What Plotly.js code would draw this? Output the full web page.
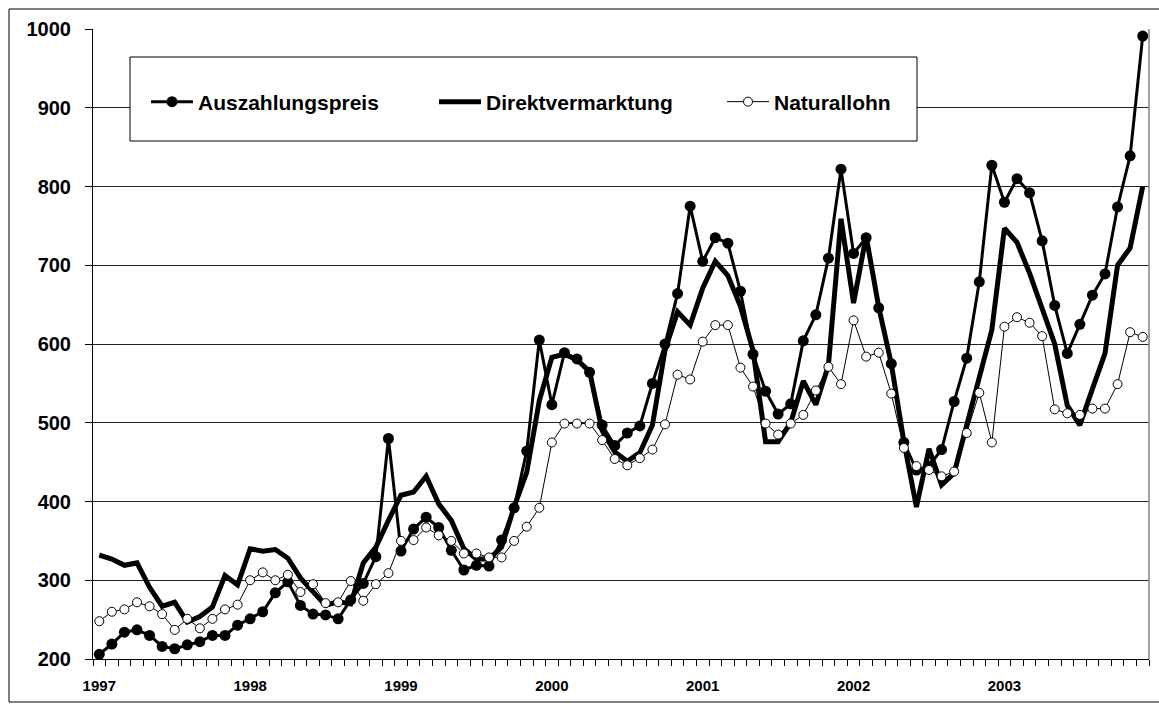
<!DOCTYPE html>
<html><head><meta charset="utf-8">
<script src="https://cdn.plot.ly/plotly-3.0.1.min.js"></script>
<style>html,body{margin:0;padding:0;background:#fff}#chart{width:1159px;height:718px}</style>
</head><body><div id="chart"></div>
<script>
// Monthly values Jan 1997 .. Dec 2003
const years = ['1997','1998','1999','2000','2001','2002','2003'];
const auszahlungspreis = [
  206,219,234,237,230,216,213,218,222,230,230,243,
  251,260,284,298,268,257,256,251,275,296,330,480,
  337,365,380,367,338,313,319,318,351,392,464,605,
  523,589,581,564,497,471,487,496,550,600,664,775,
  705,735,728,667,587,540,511,524,604,637,709,822,
  715,735,646,575,475,440,445,466,527,582,679,827,
  780,810,792,731,649,588,625,662,689,774,839,991
];
const direktvermarktung = [
  332,327,319,322,291,267,272,247,254,266,306,294,
  340,337,339,328,303,285,268,273,270,322,342,376,
  408,412,432,397,376,340,327,327,342,393,437,528,
  583,587,580,565,490,463,451,462,497,592,641,624,
  671,705,687,648,592,476,476,500,553,523,573,759,
  652,737,647,575,476,393,467,421,436,497,558,618,
  747,729,690,645,600,522,497,543,588,700,722,800
];
const naturallohn = [
  248,260,263,272,267,257,237,251,239,251,263,269,
  300,310,300,307,285,295,271,272,299,274,295,309,
  350,351,367,357,350,334,334,329,329,350,368,392,
  475,499,499,499,478,454,446,455,466,498,561,555,
  603,624,624,570,546,499,485,499,510,541,571,549,
  630,584,589,537,468,445,440,432,438,487,538,475,
  622,634,627,610,517,512,510,518,518,549,615,609
];
const seriesNames = ['Auszahlungspreis','Direktvermarktung','Naturallohn'];

const monthIndex = auszahlungspreis.map((_, i) => i);
const yearTickPos = years.map((_, k) => k * 12);

const FONT = 'Liberation Sans, Arial, Helvetica, sans-serif';

const traces = [
  {x: monthIndex, y: auszahlungspreis, name: seriesNames[0], type: 'scatter', mode: 'lines+markers',
   line: {color: '#000', width: 3}, marker: {symbol: 'circle', size: 11, color: '#000'}},
  {x: monthIndex, y: direktvermarktung, name: seriesNames[1], type: 'scatter', mode: 'lines',
   line: {color: '#000', width: 5}},
  {x: monthIndex, y: naturallohn, name: seriesNames[2], type: 'scatter', mode: 'lines+markers',
   line: {color: '#000', width: 1}, marker: {symbol: 'circle', size: 9, color: '#fff', line: {color: '#000', width: 1}}}
];

const W = 1159, H = 718, L = 93, R = 10, T = 29, B = 59;
const pw = W - L - R, ph = H - T - B;
const px = v => (v - L) / pw;
const py = v => (H - B - v) / ph;

const layout = {
  width: W, height: H,
  margin: {l: L, r: R, t: T, b: B, pad: 0},
  paper_bgcolor: '#fff', plot_bgcolor: '#fff',
  font: {family: FONT, color: '#000'},
  showlegend: true,
  legend: {
    orientation: 'h', x: px(146), xanchor: 'left', y: py(102), yanchor: 'middle',
    bgcolor: 'rgba(0,0,0,0)', borderwidth: 0,
    font: {family: FONT, size: 21, weight: 'bold', color: '#000'},
    entrywidth: 231, entrywidthmode: 'pixels', itemwidth: 42, traceorder: 'normal'
  },
  xaxis: {
    range: [-0.5, 83.5], showgrid: false, zeroline: false,
    showline: true, linecolor: '#000', linewidth: 1,
    tickmode: 'array', tickvals: yearTickPos, ticktext: years, ticks: '',
    ticklabelstandoff: 13,
    tickfont: {family: FONT, size: 15, weight: 'bold', color: '#000'},
    minor: {tick0: -0.5, dtick: 1, ticks: 'outside', ticklen: 6, tickcolor: '#000', tickwidth: 1, showgrid: false}
  },
  yaxis: {
    range: [200, 1000], dtick: 100, tick0: 200, showgrid: true, gridcolor: '#222', gridwidth: 1,
    zeroline: false, showline: true, linecolor: '#000', linewidth: 1,
    ticks: 'outside', ticklen: 7, tickcolor: '#000', ticklabelstandoff: 10,
    tickfont: {family: FONT, size: 20, weight: 'bold', color: '#000'}
  },
  shapes: [
    // outer chart frame
    {type: 'rect', xref: 'paper', yref: 'paper', x0: px(9), x1: px(1175), y0: py(702), y1: py(9),
     line: {color: '#000', width: 1}, fillcolor: 'rgba(0,0,0,0)', layer: 'below'},
    // right plot-area border
    {type: 'line', xref: 'paper', yref: 'paper', x0: 1, x1: 1, y0: 0, y1: 1,
     line: {color: '#808080', width: 1.5}},
    // legend box
    {type: 'rect', xref: 'paper', yref: 'paper', x0: px(130), x1: px(917), y0: py(141), y1: py(57),
     line: {color: '#000', width: 1}, fillcolor: '#fff', layer: 'above'}
  ]
};

Plotly.newPlot('chart', traces, layout, {staticPlot: true, displayModeBar: false});
</script>
</body></html>
